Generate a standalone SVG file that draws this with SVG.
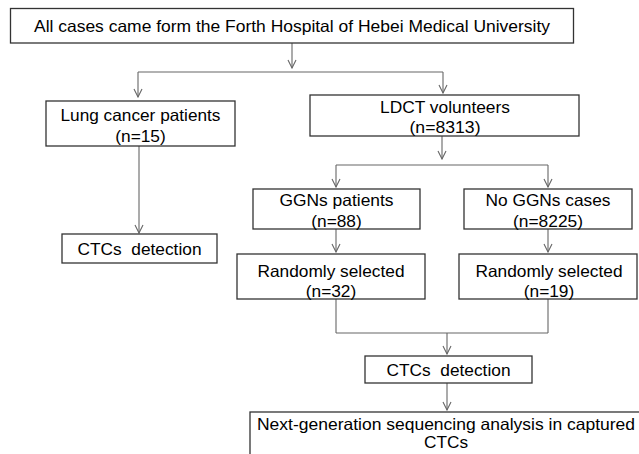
<svg xmlns="http://www.w3.org/2000/svg" width="639" height="454" viewBox="0 0 639 454">
<style>
.box{fill:#fff;stroke:#333;stroke-width:1.3}
.t{font-family:"Liberation Sans",Arial,sans-serif;font-size:16.5px;fill:#000;text-anchor:middle}
.c{fill:none;stroke:#666;stroke-width:1.1}
</style>
<defs>
<marker id="ah" viewBox="-1 -5 10 10" refX="8" refY="0" markerWidth="10" markerHeight="10" markerUnits="userSpaceOnUse" orient="auto">
<path d="M0,-4 L8,0 L0,4" fill="none" stroke="#666" stroke-width="1.1"/>
</marker>
</defs>
<rect width="639" height="454" fill="#fff"/>
<g id="connectors">
<line class="c" x1="292" y1="43" x2="292" y2="68" marker-end="url(#ah)"/>
<line class="c" x1="138" y1="72" x2="443" y2="72"/>
<line class="c" x1="138" y1="72" x2="138" y2="97" marker-end="url(#ah)"/>
<line class="c" x1="443" y1="72" x2="443" y2="93" marker-end="url(#ah)"/>
<line class="c" x1="139" y1="146" x2="139" y2="233" marker-end="url(#ah)"/>
<line class="c" x1="442" y1="136" x2="442" y2="159" marker-end="url(#ah)"/>
<line class="c" x1="336" y1="165" x2="548" y2="165"/>
<line class="c" x1="336" y1="165" x2="336" y2="187" marker-end="url(#ah)"/>
<line class="c" x1="548" y1="165" x2="548" y2="187" marker-end="url(#ah)"/>
<line class="c" x1="336" y1="229" x2="336" y2="252" marker-end="url(#ah)"/>
<line class="c" x1="548" y1="229" x2="548" y2="252" marker-end="url(#ah)"/>
<line class="c" x1="336" y1="299" x2="336" y2="333"/>
<line class="c" x1="548" y1="299" x2="548" y2="333"/>
<line class="c" x1="336" y1="333" x2="548" y2="333"/>
<line class="c" x1="447" y1="333" x2="447" y2="354" marker-end="url(#ah)"/>
<line class="c" x1="447" y1="383" x2="447" y2="410" marker-end="url(#ah)"/>
</g>
<g id="top">
<rect class="box" x="10.5" y="8.5" width="563" height="34.5"/>
<text class="t" x="292" y="32" textLength="516" lengthAdjust="spacingAndGlyphs">All cases came form the Forth Hospital of Hebei Medical University</text>
</g>
<g id="lung">
<rect class="box" x="46" y="101" width="189" height="45"/>
<text class="t" x="140.5" y="121" textLength="160" lengthAdjust="spacingAndGlyphs">Lung cancer patients</text>
<text class="t" x="140.5" y="142" textLength="50.5" lengthAdjust="spacingAndGlyphs">(n=15)</text>
</g>
<g id="ctcs1">
<rect class="box" x="62" y="234" width="155" height="29"/>
<text class="t" x="139.5" y="255" textLength="124" lengthAdjust="spacingAndGlyphs" xml:space="preserve">CTCs  detection</text>
</g>
<g id="ldct">
<rect class="box" x="310" y="95" width="269" height="41"/>
<text class="t" x="445" y="113" textLength="130" lengthAdjust="spacingAndGlyphs">LDCT volunteers</text>
<text class="t" x="445" y="133" textLength="71" lengthAdjust="spacingAndGlyphs">(n=8313)</text>
</g>
<g id="ggn">
<rect class="box" x="253" y="189" width="167" height="40"/>
<text class="t" x="336.5" y="206" textLength="114" lengthAdjust="spacingAndGlyphs">GGNs patients</text>
<text class="t" x="336.5" y="226.5" textLength="50.5" lengthAdjust="spacingAndGlyphs">(n=88)</text>
</g>
<g id="noggn">
<rect class="box" x="464" y="189" width="168" height="40"/>
<text class="t" x="548" y="206" textLength="125" lengthAdjust="spacingAndGlyphs">No GGNs cases</text>
<text class="t" x="548" y="226.5" textLength="70" lengthAdjust="spacingAndGlyphs">(n=8225)</text>
</g>
<g id="rand1">
<rect class="box" x="237" y="254" width="188" height="45"/>
<text class="t" x="331" y="276.5" textLength="147" lengthAdjust="spacingAndGlyphs">Randomly selected</text>
<text class="t" x="331" y="297" textLength="50.5" lengthAdjust="spacingAndGlyphs">(n=32)</text>
</g>
<g id="rand2">
<rect class="box" x="459" y="254" width="178" height="45"/>
<text class="t" x="549" y="276.5" textLength="147" lengthAdjust="spacingAndGlyphs">Randomly selected</text>
<text class="t" x="549" y="297" textLength="50.5" lengthAdjust="spacingAndGlyphs">(n=19)</text>
</g>
<g id="ctcs2">
<rect class="box" x="365" y="356" width="167" height="27"/>
<text class="t" x="448.5" y="376" textLength="124" lengthAdjust="spacingAndGlyphs" xml:space="preserve">CTCs  detection</text>
</g>
<g id="ngs">
<rect class="box" x="250" y="412" width="400" height="60"/>
<text class="t" x="446" y="430" textLength="378" lengthAdjust="spacingAndGlyphs">Next-generation sequencing analysis in captured</text>
<text class="t" x="446" y="448" textLength="44" lengthAdjust="spacingAndGlyphs">CTCs</text>
</g>
</svg>
